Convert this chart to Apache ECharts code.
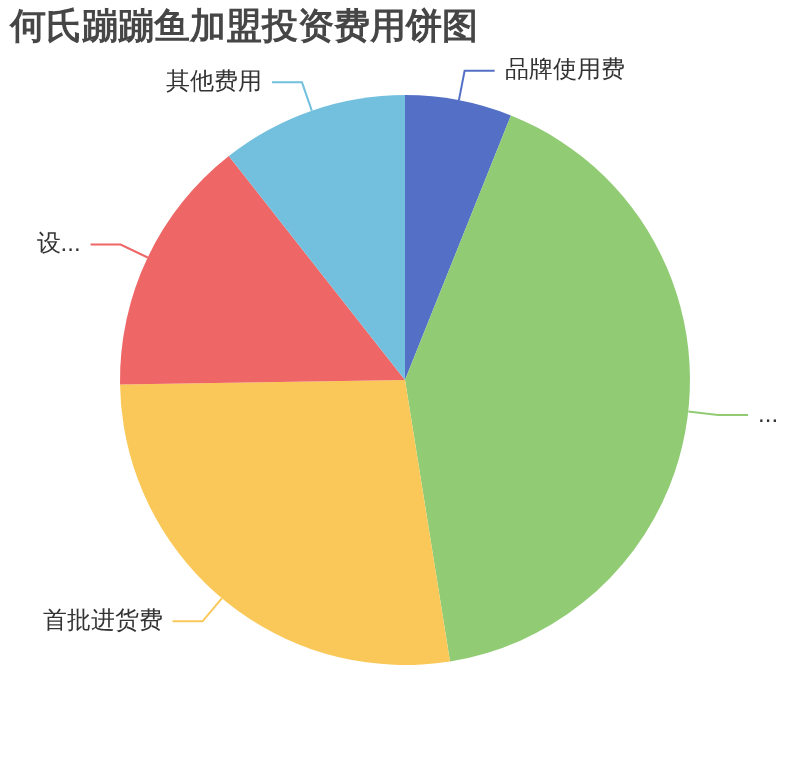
<!DOCTYPE html>
<html>
<head>
<meta charset="utf-8">
<script src="https://cdn.jsdelivr.net/npm/echarts@6/dist/echarts.min.js"></script>
<style>
  html, body { margin: 0; padding: 0; background: #fff; }
  #main { width: 810px; height: 760px; }
</style>
</head>
<body>
<div id="main"></div>
<script>
// 费用名称和金额（万元，按图估读）
var names = ['品牌使用费', '加盟费', '首批进货费', '设备购置费', '其他费用'];
var values = [1.2, 8.2, 5.4, 2.9, 2.1];
var colors = ['#5470c6', '#91cc75', '#fac858', '#ee6666', '#73c0de'];

var pieData = [];
for (var i = 0; i < names.length; i++) {
  pieData.push({ name: names[i], value: values[i] });
}

var chart = echarts.init(document.getElementById('main'));

var option = {
  color: colors,
  title: {
    text: '何氏蹦蹦鱼加盟投资费用饼图',
    left: 0,
    top: 0,
    padding: 10,
    textStyle: { fontSize: 36, fontWeight: 'bold', color: '#464646' }
  },
  series: [{
    type: 'pie',
    radius: '75%',
    center: ['50%', '50%'],
    data: pieData,
    label: {
      fontSize: 24,
      color: '#333',
      bleedMargin: 20,
      distanceToLabelLine: 10,
      overflow: 'truncate'
    },
    labelLine: {
      length: 30,
      length2: 30,
      lineStyle: { width: 2 }
    }
  }]
};

chart.setOption(option);
</script>
</body>
</html>
